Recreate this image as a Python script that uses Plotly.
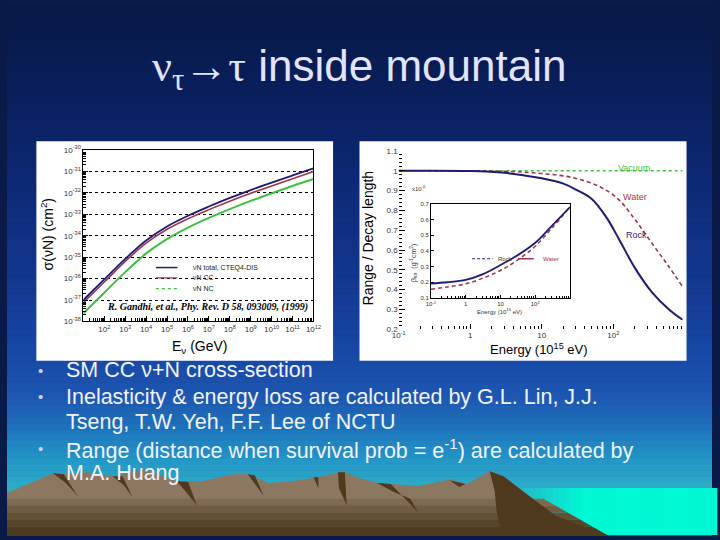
import plotly.graph_objects as go
import numpy as np

W, H = 720, 540
def px(x): return x / W
def py(y): return 1 - y / H

# ---------------- data ----------------
# Left: nu-N cross-sections (Gandhi et al.)
energy_gev = [1e1, 1e2, 1e3, 1e4, 1e5, 1e6, 1e7, 1e8, 1e9, 1e10, 1e11, 1e12]
sigma_total = [1.0e-37, 9.1e-37, 8.3e-36, 6.0e-35, 2.7e-34, 8.5e-34, 2.3e-33, 5.8e-33, 1.35e-32, 3.0e-32, 6.5e-32, 1.4e-31]
sigma_cc = [7.6e-38, 6.9e-37, 6.3e-36, 4.5e-35, 2.0e-34, 6.2e-34, 1.65e-33, 4.1e-33, 9.5e-33, 2.1e-32, 4.6e-32, 1.0e-31]
sigma_nc = [2.4e-38, 2.2e-37, 2.0e-36, 1.5e-35, 7.0e-35, 2.4e-34, 6.8e-34, 1.75e-33, 4.2e-33, 9.5e-33, 2.1e-32, 4.4e-32]
left_x_tickvals = [1e2, 1e3, 1e4, 1e5, 1e6, 1e7, 1e8, 1e9, 1e10, 1e11, 1e12]
left_x_ticktext = ["10<sup>%d</sup>" % k for k in range(2, 13)]
left_x_gridvals = [1e3, 1e5, 1e7, 1e9, 1e11]
left_y_tickvals = [10.0 ** (-k) for k in range(30, 39)]
left_y_ticktext = ["10<sup>-%d</sup>" % k for k in range(30, 39)]

# Right: range / decay length
energy_rock = [0.1, 1, 3, 10, 20, 30, 50, 80, 120, 200, 350, 600, 930]
range_rock = [1.0, 0.999, 0.99, 0.962, 0.935, 0.905, 0.858, 0.765, 0.655, 0.51, 0.385, 0.30, 0.248]
energy_water = [0.1, 1, 4, 10, 25, 60, 115, 195, 330, 560, 930]
range_water = [1.0, 1.0, 0.996, 0.986, 0.968, 0.925, 0.86, 0.76, 0.645, 0.53, 0.415]
energy_vacuum = [0.1, 930]
range_vacuum = [1.0, 1.0]
right_x_tickvals = [0.1, 1, 10, 100]
right_x_ticktext = ["10<sup>-1</sup>", "1", "10", "10<sup>2</sup>"]
right_y_tickvals = [0.2, 0.3, 0.4, 0.5, 0.6, 0.7, 0.8, 0.9, 1.0, 1.1]
right_y_ticktext = ["0.2", "0.3", "0.4", "0.5", "0.6", "0.7", "0.8", "0.9", "1", "1.1"]

# Inset: energy-loss coefficient beta (x1e-6)
energy_beta = [0.1, 0.3, 1, 3, 10, 30, 100, 300, 1000]
beta_rock = [0.192, 0.200, 0.215, 0.250, 0.310, 0.370, 0.452, 0.560, 0.680]
beta_water = [0.155, 0.170, 0.190, 0.225, 0.275, 0.340, 0.430, 0.545, 0.680]
inset_y_tickvals = [0.1, 0.2, 0.3, 0.4, 0.5, 0.6, 0.7]
inset_y_gridvals = [0.2, 0.4, 0.6]
inset_x_gridvals = [10, 100]

NAVY = "#1c1c72"
RED = "#a3344a"
GREEN = "#3fbf3f"

fig = go.Figure()

# left chart traces
fig.add_trace(go.Scatter(x=energy_gev, y=sigma_nc, mode="lines", line=dict(color=GREEN, width=2, shape="spline"),
                         xaxis="x", yaxis="y", showlegend=False, hoverinfo="skip"))
fig.add_trace(go.Scatter(x=energy_gev, y=sigma_cc, mode="lines", line=dict(color=RED, width=1.6, shape="spline"),
                         xaxis="x", yaxis="y", showlegend=False, hoverinfo="skip"))
fig.add_trace(go.Scatter(x=energy_gev, y=sigma_total, mode="lines", line=dict(color=NAVY, width=1.8, shape="spline"),
                         xaxis="x", yaxis="y", showlegend=False, hoverinfo="skip"))

# right chart traces
fig.add_trace(go.Scatter(x=energy_vacuum, y=range_vacuum, mode="lines", line=dict(color=GREEN, width=1.5, dash="dot"),
                         xaxis="x2", yaxis="y2", showlegend=False, hoverinfo="skip"))
fig.add_trace(go.Scatter(x=energy_water, y=range_water, mode="lines", line=dict(color=RED, width=1.6, dash="4px,3px", shape="spline"),
                         xaxis="x2", yaxis="y2", showlegend=False, hoverinfo="skip"))
fig.add_trace(go.Scatter(x=energy_rock, y=range_rock, mode="lines", line=dict(color=NAVY, width=2, shape="spline"),
                         xaxis="x2", yaxis="y2", showlegend=False, hoverinfo="skip"))

# inset traces
fig.add_trace(go.Scatter(x=energy_beta, y=beta_water, mode="lines", line=dict(color=RED, width=1.5, dash="4px,3px", shape="spline"),
                         xaxis="x3", yaxis="y3", showlegend=False, hoverinfo="skip"))
fig.add_trace(go.Scatter(x=energy_beta, y=beta_rock, mode="lines", line=dict(color=NAVY, width=1.8, shape="spline"),
                         xaxis="x3", yaxis="y3", showlegend=False, hoverinfo="skip"))

tickfont = dict(family="Liberation Sans", size=8, color="#333333")
tinyfont = dict(family="Liberation Sans", size=6, color="#333333")

layout = dict(
    width=W, height=H, autosize=False,
    margin=dict(l=0, r=0, t=0, b=0),
    paper_bgcolor="#0a1a48", plot_bgcolor="rgba(0,0,0,0)",
    showlegend=False,
    # left chart
    xaxis=dict(type="log", range=[1, 12], domain=[px(78), px(313)], anchor="y",
               showline=True, linecolor="black", linewidth=1, mirror=True,
               ticks="inside", ticklen=5, tickcolor="black",
               tickmode="array", tickvals=left_x_tickvals, ticktext=left_x_ticktext,
               tickfont=tickfont, showgrid=False, zeroline=False,
               minor=dict(ticks="inside", ticklen=3, tickcolor="black", dtick="D1", showgrid=False)),
    yaxis=dict(type="log", range=[-38, -30], domain=[py(322), py(147)], anchor="x",
               showline=True, linecolor="black", linewidth=1, mirror=True,
               ticks="inside", ticklen=5, tickcolor="black",
               tickmode="array", tickvals=left_y_tickvals, ticktext=left_y_ticktext,
               tickfont=tickfont, showgrid=True, gridcolor="black", griddash="dot", gridwidth=1,
               zeroline=False,
               minor=dict(ticks="inside", ticklen=3, tickcolor="black", dtick="D1", showgrid=False)),
    xaxis4=dict(type="log", range=[1, 12], overlaying="x", anchor="y", showline=False,
                tickmode="array", tickvals=left_x_gridvals, showticklabels=False, ticks="",
                showgrid=True, gridcolor="black", griddash="dot", gridwidth=1, zeroline=False),
    # right chart
    xaxis2=dict(type="log", range=[-1, np.log10(930)], domain=[px(400), px(690)], anchor="y2",
                showline=False, ticks="inside", ticklen=5, tickcolor="black",
                tickmode="array", tickvals=right_x_tickvals, ticktext=right_x_ticktext,
                tickfont=tickfont, showgrid=False, zeroline=False,
                minor=dict(ticks="inside", ticklen=3, tickcolor="black", dtick="D1", showgrid=False)),
    yaxis2=dict(range=[0.2, 1.1], domain=[py(330), py(148)], anchor="x2",
                showline=False, ticks="inside", ticklen=6, tickcolor="black",
                tickmode="array", tickvals=right_y_tickvals, ticktext=right_y_ticktext,
                tickfont=tickfont, showgrid=False, zeroline=False,
                minor=dict(ticks="inside", ticklen=3, tickcolor="black", dtick=0.02, showgrid=False)),
    xaxis5=dict(type="log", range=[-1, np.log10(930)], overlaying="x2", anchor="y2", side="top",
                showline=True, linecolor="black", linewidth=1.5, showticklabels=False, ticks="",
                showgrid=False, zeroline=False),
    # inset
    xaxis3=dict(type="log", range=[-1, 3], domain=[px(433), px(575)], anchor="y3",
                showline=True, linecolor="black", linewidth=1, mirror=True,
                ticks="inside", ticklen=3, tickcolor="black",
                tickmode="array", tickvals=right_x_tickvals, ticktext=right_x_ticktext,
                tickfont=tinyfont, showgrid=False, zeroline=False,
                minor=dict(ticks="inside", ticklen=2, tickcolor="black", dtick="D1", showgrid=False)),
    yaxis3=dict(range=[0.1, 0.7], domain=[py(298), py(202)], anchor="x3",
                showline=True, linecolor="black", linewidth=1, mirror=True,
                ticks="inside", ticklen=3, tickcolor="black",
                tickmode="array", tickvals=inset_y_tickvals,
                tickfont=tinyfont, showgrid=False, zeroline=False),
    xaxis6=dict(type="log", range=[-1, 3], overlaying="x3", anchor="y3", showline=False,
                tickmode="array", tickvals=inset_x_gridvals, showticklabels=False, ticks="",
                showgrid=True, gridcolor="black", griddash="dot", gridwidth=1, zeroline=False),
    yaxis4=dict(range=[0.1, 0.7], overlaying="y3", anchor="x3", showline=False,
                tickmode="array", tickvals=inset_y_gridvals, showticklabels=False, ticks="",
                showgrid=True, gridcolor="black", griddash="dot", gridwidth=1, zeroline=False),
)
fig.update_layout(**layout)

# ---------------- decorative background (slide) ----------------
shapes = []
stop_y = [0, 100, 200, 300, 360, 400, 430, 460, 490, 540]
stop_c = [(8, 24, 70), (10, 32, 95), (14, 44, 122), (20, 60, 150), (24, 74, 168),
          (30, 88, 178), (30, 115, 188), (35, 148, 198), (45, 172, 202), (45, 180, 205)]
for i in range(0, 540, 6):
    yc = i + 3
    c = [int(np.interp(yc, stop_y, [s[k] for s in stop_c])) for k in range(3)]
    shapes.append(dict(type="rect", xref="paper", yref="paper", x0=0, x1=1, y0=py(i + 6.5), y1=py(i),
                       fillcolor="rgb(%d,%d,%d)" % tuple(c), line=dict(width=0), layer="below"))

# sea
for j in range(0, 206, 6):
    x = 515 + j
    t = min(1.0, j / 70.0)
    c = (int(40 * (1 - t) + 0 * t), int(178 * (1 - t) + 248 * t), int(200 * (1 - t) + 212 * t))
    shapes.append(dict(type="rect", xref="paper", yref="paper", x0=px(x), x1=px(x + 6.5), y0=0, y1=py(492),
                       fillcolor="rgb(%d,%d,%d)" % c, line=dict(width=0), layer="below"))

def path(pts):
    return "M " + " L ".join("%.5f,%.5f" % (px(a), py(b)) for a, b in pts) + " Z"

silhouette = [(0, 497), (47, 477), (60, 478), (80, 476), (110, 480), (140, 473), (173, 485), (200, 485),
              (230, 478), (247, 478), (267, 487), (293, 485), (317, 481), (343, 475), (360, 482),
              (380, 487), (420, 490), (453, 483), (470, 488), (493, 475), (507, 480), (533, 500),
              (560, 520), (593, 533), (613, 540), (0, 540)]
shapes.append(dict(type="path", xref="paper", yref="paper", path=path(silhouette),
                   fillcolor="#8c7861", line=dict(width=0), layer="below"))

# darker foreground bands
def xr(y):
    return 507 + (y - 480) * 106.0 / 60.0
bands_y = [503, 510, 517, 524, 531, 541]
bands_c = ["#7d6a52", "#6f5c42", "#625035", "#57452a", "#4c3b20"]
for k in range(len(bands_c)):
    y0, y1 = bands_y[k], bands_y[k + 1]
    shapes.append(dict(type="path", xref="paper", yref="paper",
                       path=path([(0, y0), (xr(y0), y0), (xr(y1), y1), (0, y1)]),
                       fillcolor=bands_c[k], line=dict(width=0), layer="below"))

shadows = [
    [(47, 477), (58, 478), (72, 500), (60, 487)],
    [(108, 480), (118, 480), (128, 501), (119, 489)],
    [(173, 485), (185, 486), (194, 510), (182, 495)],
    [(246, 478), (253, 479), (262, 500), (254, 489)],
    [(313, 481), (318, 481), (318, 492)],
    [(338, 476), (345, 476), (347, 510), (339, 492)],
    [(378, 487), (392, 488), (420, 517), (412, 503), (395, 496)],
    [(452, 484), (468, 488), (462, 491)],
    [(493, 475), (507, 480), (533, 500), (560, 520), (593, 533), (613, 540), (505, 540), (500, 515), (498, 495)],
]
for s in shadows:
    shapes.append(dict(type="path", xref="paper", yref="paper", path=path(s),
                       fillcolor="#4f3a1d", line=dict(width=0), layer="below"))

# white chart panels
shapes.append(dict(type="rect", xref="paper", yref="paper", x0=px(30), x1=px(333), y0=py(362), y1=py(138),
                   fillcolor="white", line=dict(width=0), layer="below"))
shapes.append(dict(type="rect", xref="paper", yref="paper", x0=px(360), x1=px(694), y0=py(362), y1=py(138),
                   fillcolor="white", line=dict(width=0), layer="below"))

# legend samples (left chart)
for yy, col, dash, wdt in [(267, NAVY, "solid", 1.5), (277.5, RED, "solid", 1.2), (288.5, GREEN, "dot", 1.2)]:
    shapes.append(dict(type="line", xref="paper", yref="paper", x0=px(152), x1=px(174), y0=py(yy), y1=py(yy),
                       line=dict(color=col, width=wdt, dash=dash)))
# inset legend samples
shapes.append(dict(type="line", xref="paper", yref="paper", x0=px(475), x1=px(496), y0=py(258), y1=py(258),
                   line=dict(color=NAVY, width=1, dash="3px,2px")))
shapes.append(dict(type="line", xref="paper", yref="paper", x0=px(522), x1=px(538), y0=py(258), y1=py(258),
                   line=dict(color=RED, width=1.5)))

fig.update_layout(shapes=shapes)

# ---------------- text ----------------
ann = []
def text(x, y, s, size, color, family="Liberation Sans", xanchor="center", angle=0, yanchor="middle"):
    ann.append(dict(x=px(x), y=py(y), xref="paper", yref="paper", text=s, showarrow=False,
                    xanchor=xanchor, yanchor=yanchor, textangle=angle,
                    font=dict(family=family, size=size, color=color)))

text(359, 64, '<span style="font-family:Liberation Serif">ν<sub>τ</sub>→τ</span> inside mountain', 44, "#e2e4ff")

BUL = "#f2f2ff"
for yy in [372, 399, 452]:
    text(34, yy, "•", 15, "#c8d2ff")
text(58, 372, "SM CC ν+N cross-section", 21.5, BUL, xanchor="left")
text(58, 399, "Inelasticity &amp; energy loss are calculated by G.L. Lin, J.J.", 21.5, BUL, xanchor="left")
text(58, 425, "Tseng, T.W. Yeh, F.F. Lee of NCTU", 21.5, BUL, xanchor="left")
text(58, 452, "Range (distance when survival prob = e<sup>-1</sup>) are calculated by", 21.5, BUL, xanchor="left")
text(58, 477, "M.A. Huang", 21.5, BUL, xanchor="left")

# left chart texts
text(41, 233, "σ(νN) (cm<sup>2</sup>)", 14, "black", angle=-90)
text(197, 348, "E<sub>ν</sub> (GeV)", 14, "black")
text(205, 307, "<b><i>R. Gandhi, et al., Phy. Rev. D 58, 093009, (1999)</i></b>", 10, "black", family="Liberation Serif")
text(188, 267, "νN total, CTEQ4-DIS", 7, "#222222", xanchor="left")
text(188, 277.5, "νN CC", 7, "#222222", xanchor="left")
text(188, 288.5, "νN NC", 7, "#222222", xanchor="left")

# right chart texts
text(369, 237, "Range / Decay length", 14, "black", angle=-90)
text(543, 350, "Energy (10<sup>15</sup> eV)", 13, "black")
text(640, 165, "Vacuum", 9, GREEN)
text(641, 195, "Water", 9, RED)
text(643, 234, "Rock", 9, NAVY)
text(421, 186, "x10<sup>-6</sup>", 6, "#333333")
text(415, 262, "β<sub>tot</sub>  (g<sup>-1</sup>cm<sup>2</sup>)", 7, "#333333", angle=-90)
text(503, 311, "Energy (10<sup>15</sup> eV)", 6, "#333333")
text(499, 258, "Rock", 6, "#333333", xanchor="left")
text(545, 258, "Water", 6, RED, xanchor="left")

fig.update_layout(annotations=ann)

fig.write_html("out.html", config={"displayModeBar": False},
               post_script="document.body.style.margin='0';document.body.style.overflow='hidden';")
